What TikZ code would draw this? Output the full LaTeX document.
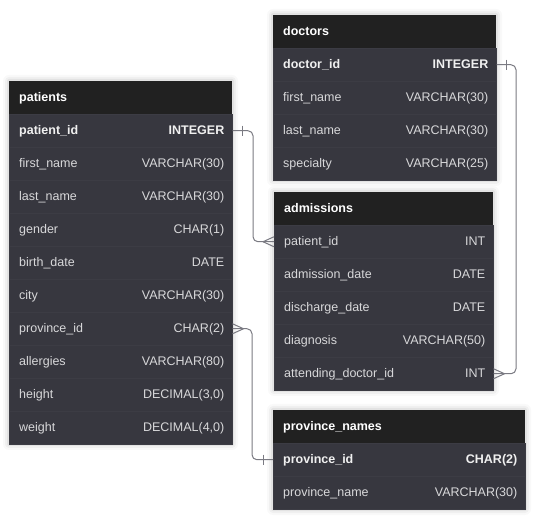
\documentclass[tikz,border=0pt]{standalone}
\usepackage{fontspec}
\setmainfont{Liberation Sans}
\usetikzlibrary{calc}
\definecolor{hdr}{HTML}{212121}
\definecolor{bodycol}{HTML}{37373F}
\definecolor{sepcol}{HTML}{3C3C44}
\definecolor{txt}{HTML}{D8D8DA}
\definecolor{keytxt}{HTML}{F0F0F0}
\definecolor{conncol}{HTML}{7A7A82}
\tikzset{
  hdrbox/.style={anchor=north west, minimum height=33pt, inner sep=0pt, fill=hdr, draw=none},
  rowbox/.style={anchor=north west, minimum height=33pt, inner sep=0pt, fill=bodycol, draw=sepcol, line width=0.5pt},
  titletxt/.style={anchor=west, inner sep=0pt, text height=9pt, text depth=0pt, font=\fontsize{12.5}{14}\selectfont\bfseries, text=white},
  lefttxt/.style={anchor=west, inner sep=0pt, text height=9pt, text depth=0pt, font=\fontsize{12.5}{14}\selectfont, text=txt},
  righttxt/.style={anchor=east, inner sep=0pt, text height=9pt, text depth=0pt, font=\fontsize{12.5}{14}\selectfont, text=txt},
  keyrow/.style={font=\fontsize{12.5}{14}\selectfont\bfseries, text=keytxt},
  plainrow/.style={},
  conn/.style={draw=conncol, line width=1pt, rounded corners=5pt},
  endmark/.style={draw=conncol, line width=1pt},
}
\newcommand\ertitle[5]{%
  \node[hdrbox, minimum width=#4] (#1) at (#2,#3) {};
  \node[titletxt] (#1t) at ($(#1.west)+(10,-1)$) {#5};}
\newcommand\errow[7]{%
  \node[rowbox, minimum width=#4] (#1) at (#2,#3) {};
  \node[lefttxt,#7] (#1l) at ($(#1.west)+(10,-1)$) {#5};
  \node[righttxt,#7] (#1r) at ($(#1.east)+(-8,-1)$) {#6};}
\newcommand\ershadow[4]{%
  \foreach \e/\o in {6/0.025,4/0.035,2/0.05}{
    \fill[black, opacity=\o, rounded corners=\e pt] (#1-\e,#2-\e) rectangle (#3+\e,#4+\e);}}
\begin{document}
\begin{tikzpicture}[x=1pt,y=-1pt]
\useasboundingbox (0,0) rectangle (536,521);
\fill[white] (0,0) rectangle (536,521);
% shadows
\ershadow{9}{81}{232}{444}
\ershadow{273}{15}{496}{180}
\ershadow{274}{192}{493}{390}
\ershadow{273}{410}{525}{509}
% patients
\ertitle{p0}{9}{81}{223}{patients}
\errow{p1}{9}{114}{223}{patient\_id}{INTEGER}{keyrow}
\errow{p2}{9}{147}{223}{first\_name}{VARCHAR(30)}{plainrow}
\errow{p3}{9}{180}{223}{last\_name}{VARCHAR(30)}{plainrow}
\errow{p4}{9}{213}{223}{gender}{CHAR(1)}{plainrow}
\errow{p5}{9}{246}{223}{birth\_date}{DATE}{plainrow}
\errow{p6}{9}{279}{223}{city}{VARCHAR(30)}{plainrow}
\errow{p7}{9}{312}{223}{province\_id}{CHAR(2)}{plainrow}
\errow{p8}{9}{345}{223}{allergies}{VARCHAR(80)}{plainrow}
\errow{p9}{9}{378}{223}{height}{DECIMAL(3,0)}{plainrow}
\errow{p10}{9}{411}{223}{weight}{DECIMAL(4,0)}{plainrow}
% doctors
\ertitle{d0}{273}{15}{223}{doctors}
\errow{d1}{273}{48}{223}{doctor\_id}{INTEGER}{keyrow}
\errow{d2}{273}{81}{223}{first\_name}{VARCHAR(30)}{plainrow}
\errow{d3}{273}{114}{223}{last\_name}{VARCHAR(30)}{plainrow}
\errow{d4}{273}{147}{223}{specialty}{VARCHAR(25)}{plainrow}
% admissions
\ertitle{a0}{274}{192}{219}{admissions}
\errow{a1}{274}{225}{219}{patient\_id}{INT}{plainrow}
\errow{a2}{274}{258}{219}{admission\_date}{DATE}{plainrow}
\errow{a3}{274}{291}{219}{discharge\_date}{DATE}{plainrow}
\errow{a4}{274}{324}{219}{diagnosis}{VARCHAR(50)}{plainrow}
\errow{a5}{274}{357}{219}{attending\_doctor\_id}{INT}{plainrow}
% province_names
\ertitle{n0}{273}{410}{252}{province\_names}
\errow{n1}{273}{443}{252}{province\_id}{CHAR(2)}{keyrow}
\errow{n2}{273}{476}{252}{province\_name}{VARCHAR(30)}{plainrow}
% connector helper columns
\coordinate (v1) at (253,0);
\coordinate (v2) at (516,0);
\coordinate (v3) at (252,0);
% patients.patient_id -> admissions.patient_id
\draw[conn] (p1.east) -- (p1.east -| v1) |- (a1.west);
\draw[endmark] ($(p1.east)+(10,-5)$) -- ($(p1.east)+(10,5)$);
\draw[endmark] ($(a1.west)+(-11,0)$) -- ($(a1.west)+(0,-5)$);
\draw[endmark] ($(a1.west)+(-11,0)$) -- ($(a1.west)+(0,5)$);
% doctors.doctor_id -> admissions.attending_doctor_id
\draw[conn] (d1.east) -- (d1.east -| v2) |- (a5.east);
\draw[endmark] ($(d1.east)+(10,-5)$) -- ($(d1.east)+(10,5)$);
\draw[endmark] ($(a5.east)+(11,0)$) -- ($(a5.east)+(0,-5)$);
\draw[endmark] ($(a5.east)+(11,0)$) -- ($(a5.east)+(0,5)$);
% province_names.province_id -> patients.province_id
\draw[conn] (p7.east) -- (p7.east -| v3) |- (n1.west);
\draw[endmark] ($(p7.east)+(11,0)$) -- ($(p7.east)+(0,-5)$);
\draw[endmark] ($(p7.east)+(11,0)$) -- ($(p7.east)+(0,5)$);
\draw[endmark] ($(n1.west)+(-10,-5)$) -- ($(n1.west)+(-10,5)$);
\end{tikzpicture}
\end{document}
